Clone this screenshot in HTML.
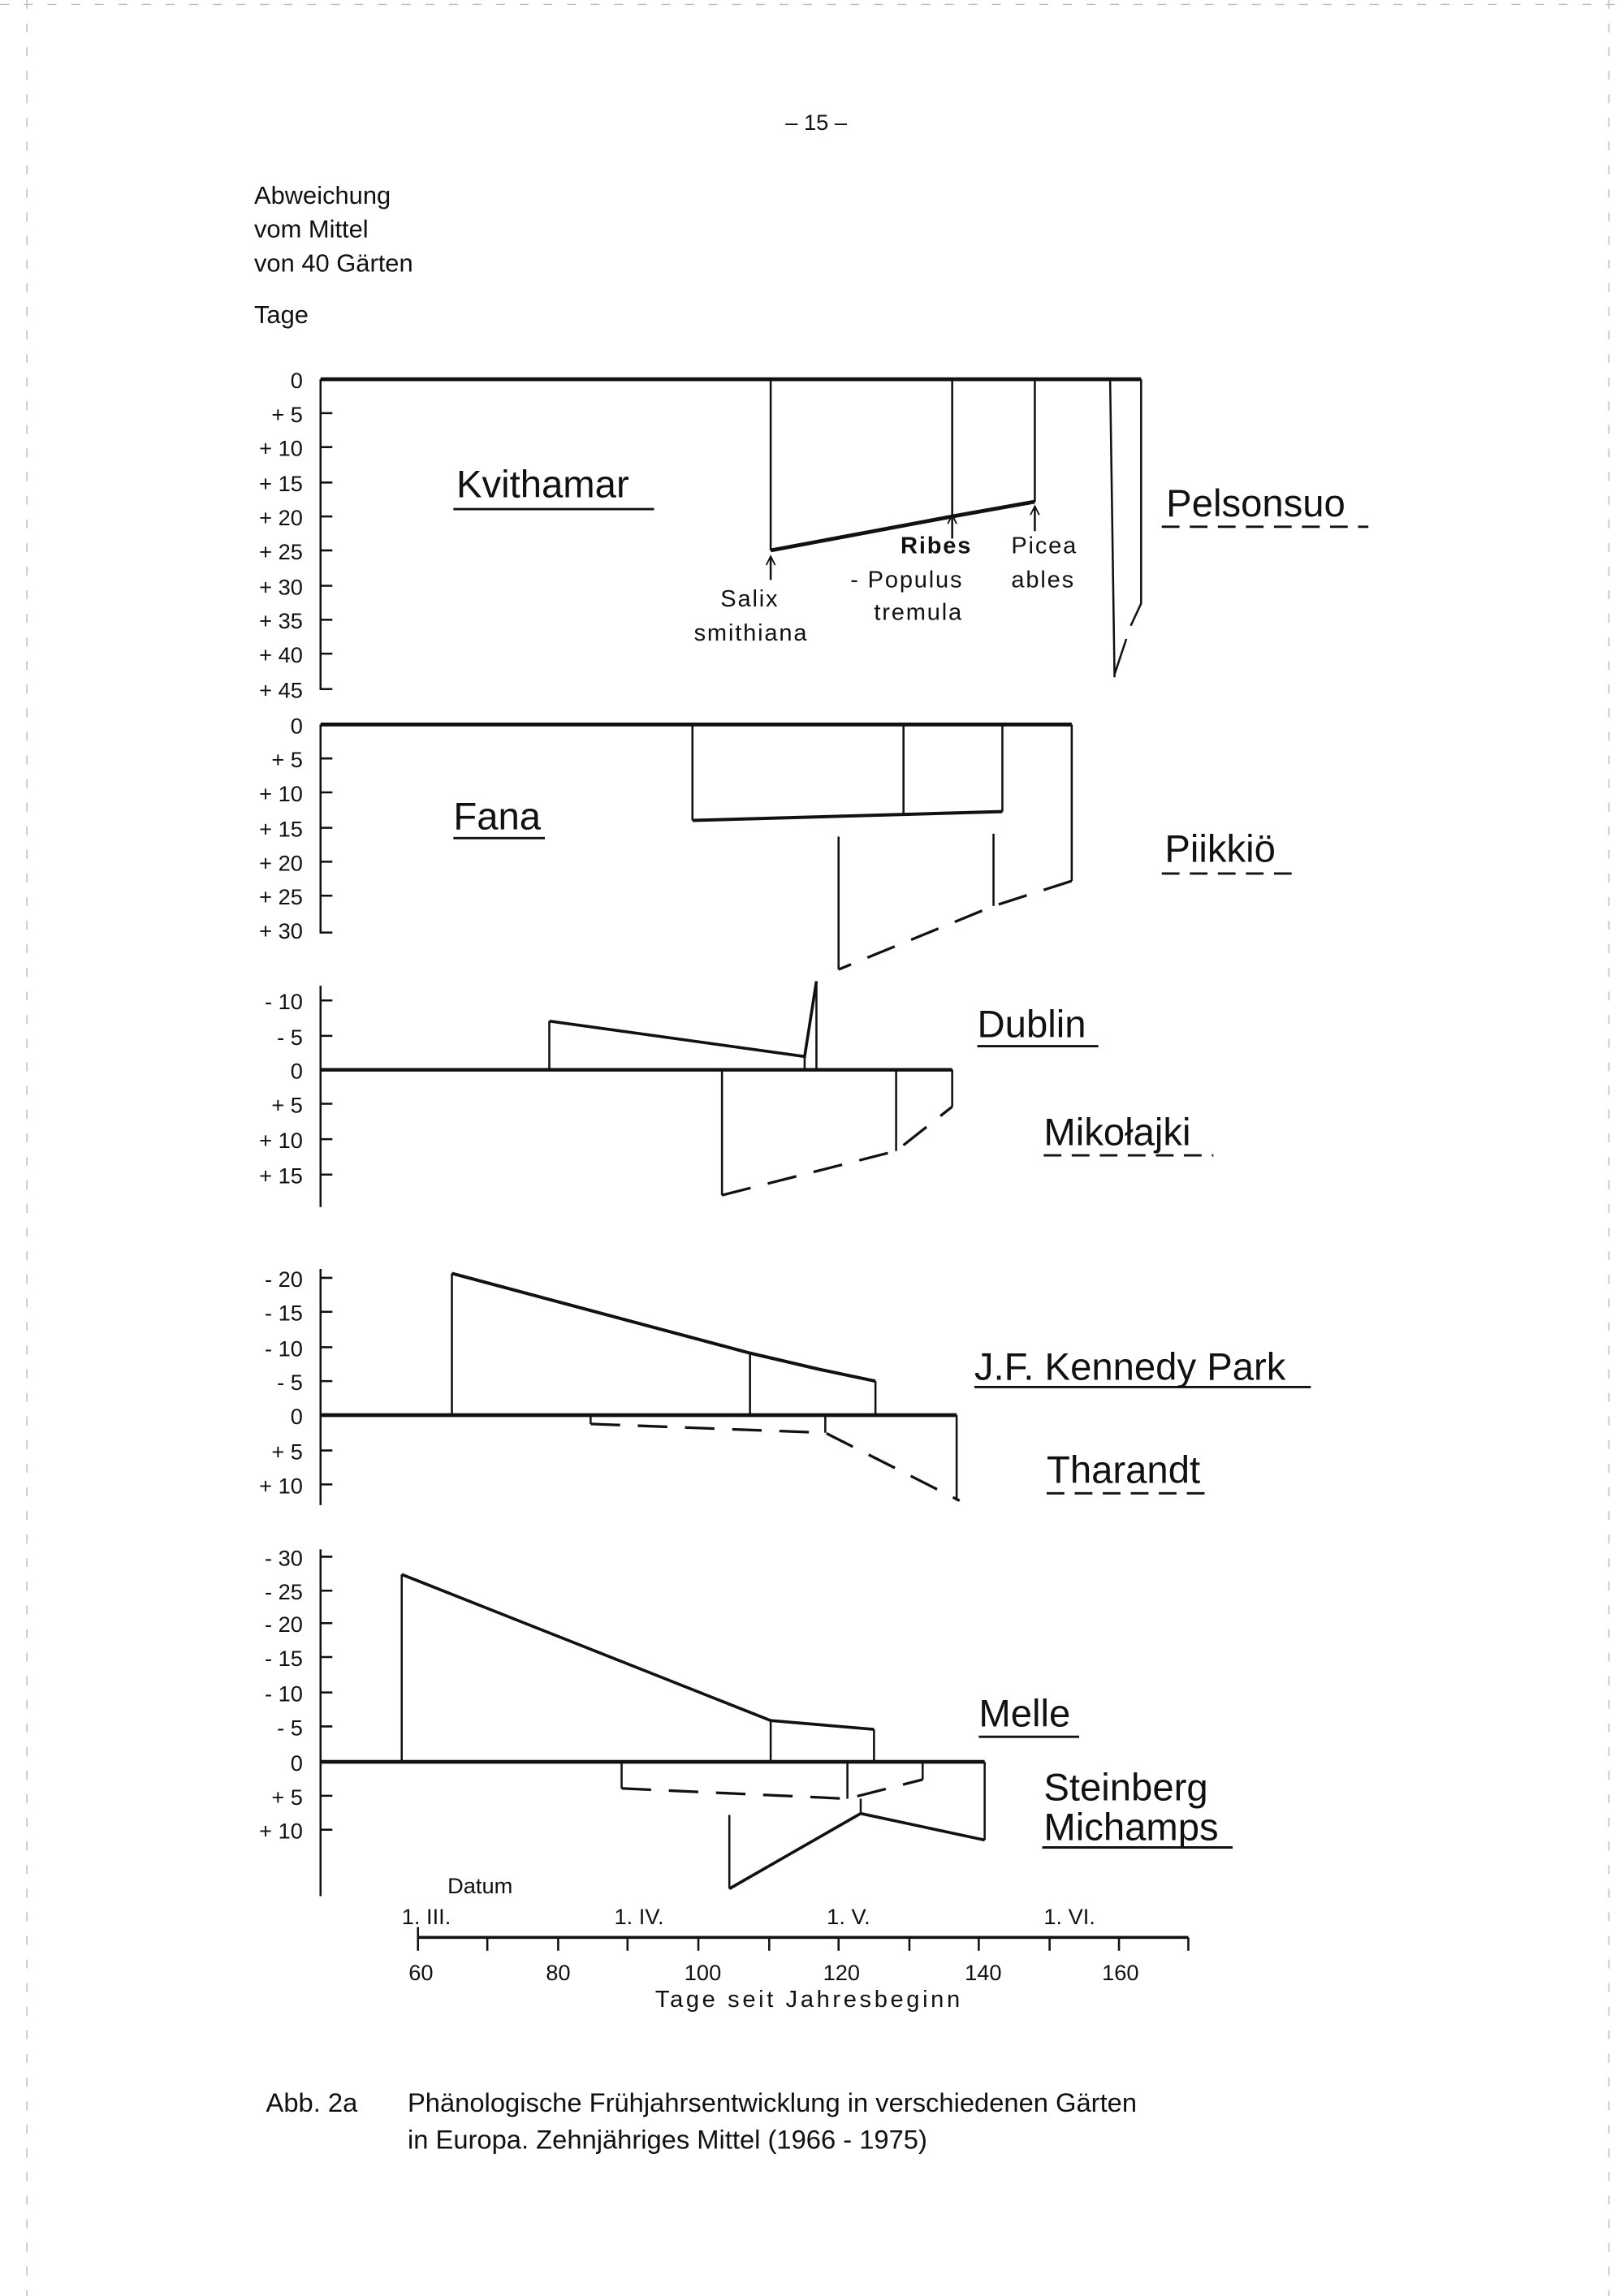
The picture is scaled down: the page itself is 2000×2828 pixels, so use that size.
<!DOCTYPE html>
<html><head><meta charset="utf-8"><style>
html,body{margin:0;padding:0;background:#fff}
svg{display:block}
text{font-family:"Liberation Sans",sans-serif;fill:#111}
</style></head><body>
<svg width="2000" height="2828" viewBox="0 0 1100 1556" xmlns="http://www.w3.org/2000/svg">
<g stroke="#bbb" stroke-width="0.8" stroke-dasharray="6 10" fill="none">
<line x1="0" y1="3" x2="1100" y2="3"/>
<line x1="18" y1="0" x2="18" y2="1556"/>
<line x1="1090" y1="0" x2="1090" y2="1556"/>
</g>
<text x="532" y="88" font-size="15">– 15 –</text>
<g font-size="17">
<text x="172" y="138">Abweichung</text>
<text x="172" y="161">vom Mittel</text>
<text x="172" y="184">von 40 Gärten</text>
<text x="172" y="219">Tage</text>
</g>
<g font-size="15" text-anchor="end">
<text x="205" y="263">0</text><text x="205" y="286">+ 5</text><text x="205" y="309">+ 10</text><text x="205" y="333">+ 15</text><text x="205" y="356">+ 20</text><text x="205" y="379">+ 25</text><text x="205" y="403">+ 30</text><text x="205" y="426">+ 35</text><text x="205" y="449">+ 40</text><text x="205" y="473">+ 45</text>
<text x="205" y="497">0</text><text x="205" y="520">+ 5</text><text x="205" y="543">+ 10</text><text x="205" y="567">+ 15</text><text x="205" y="590">+ 20</text><text x="205" y="613">+ 25</text><text x="205" y="636">+ 30</text>
<text x="205" y="684">- 10</text><text x="205" y="708">- 5</text><text x="205" y="731">0</text><text x="205" y="754">+ 5</text><text x="205" y="778">+ 10</text><text x="205" y="802">+ 15</text>
<text x="205" y="872">- 20</text><text x="205" y="895">- 15</text><text x="205" y="919">- 10</text><text x="205" y="942">- 5</text><text x="205" y="965">0</text><text x="205" y="989">+ 5</text><text x="205" y="1012">+ 10</text>
<text x="205" y="1061">- 30</text><text x="205" y="1084">- 25</text><text x="205" y="1106">- 20</text><text x="205" y="1129">- 15</text><text x="205" y="1153">- 10</text><text x="205" y="1176">- 5</text><text x="205" y="1200">0</text><text x="205" y="1223">+ 5</text><text x="205" y="1246">+ 10</text>
</g>
<g stroke="#111" stroke-width="1.4" fill="none">
<!-- panel 1 axis -->
<path d="M217 257V467H225"/>
<path d="M217 280h8M217 303h8M217 327h8M217 350h8M217 373h8M217 397h8M217 420h8M217 443h8"/>
<line x1="217" y1="257" x2="773" y2="257" stroke-width="2.6"/>
<path d="M522 257V373M645 257V350M701 257V340"/>
<path d="M522 373L645 350L701 340" stroke-width="2.6"/>
<path d="M752 257L755 459M773 257V409L766 424M763 433L755 457"/>
<!-- arrows -->
<path d="M522 393V378M645 365V350M701 360V344"/>
<path d="M519 383L522 377L525 383M642 355L645 349L648 355M698 349L701 343L704 349" stroke-width="1"/>
<!-- panel 2 -->
<path d="M217 491V632H225"/>
<path d="M217 514h8M217 537h8M217 561h8M217 584h8M217 607h8"/>
<line x1="217" y1="491" x2="726" y2="491" stroke-width="2.6"/>
<path d="M469 491V556M612 491V551M679 491V550M726 491V597"/>
<path d="M469 556L679 550" stroke-width="2.2"/>
<path d="M673 565V614M568 567V657"/>
<path d="M726 597L673 614L568 657" stroke-dasharray="20 12" stroke-width="1.8"/>
<!-- panel 3 -->
<path d="M217 668V818"/>
<path d="M217 678h8M217 702h8M217 748h8M217 772h8M217 796h8"/>
<line x1="217" y1="725" x2="645" y2="725" stroke-width="2.4"/>
<path d="M372 725V692M545 716V725M553 665V725"/>
<path d="M372 692L545 716L553 665" stroke-width="2"/>
<path d="M489 725V810M607 725V780M645 725V750"/>
<path d="M489 810L607 780L645 750" stroke-dasharray="20 12" stroke-width="1.8"/>
<!-- panel 4 -->
<path d="M217 860V1020"/>
<path d="M217 866h8M217 889h8M217 913h8M217 936h8M217 983h8M217 1006h8"/>
<line x1="217" y1="959" x2="648" y2="959" stroke-width="2.6"/>
<path d="M306 959V863M508 917V959M593 936V959"/>
<path d="M306 863L508 917L555 928L593 936" stroke-width="2.2"/>
<path d="M400 959V965M559 959V971M648 959V1017"/>
<path d="M400 965L559 971L650 1017" stroke-dasharray="20 12" stroke-width="1.8"/>
<!-- panel 5 -->
<path d="M217 1050V1285"/>
<path d="M217 1055h8M217 1078h8M217 1100h8M217 1123h8M217 1147h8M217 1170h8M217 1217h8M217 1240h8"/>
<line x1="217" y1="1194" x2="667" y2="1194" stroke-width="2.6"/>
<path d="M272 1194V1067M522 1166V1194M592 1172V1194"/>
<path d="M272 1067L522 1166L592 1172" stroke-width="2"/>
<path d="M421 1194V1212M574 1194V1219M625 1194V1206"/>
<path d="M421 1212L574 1219L625 1206" stroke-dasharray="20 12" stroke-width="1.8"/>
<path d="M667 1194V1247M583 1219V1229M494 1230V1280"/>
<path d="M667 1247L583 1229L494 1280" stroke-width="2"/>
<!-- date axis -->
<line x1="283" y1="1313" x2="805" y2="1313" stroke-width="2"/>
<path d="M283 1306V1322M330 1313V1322M378 1313V1322M425 1313V1322M473 1313V1322M521 1313V1322M568 1313V1322M616 1313V1322M663 1313V1322M711 1313V1322M758 1313V1322M805 1313V1322"/>
<!-- underlines -->
<path d="M307 345H443M307 568H369M662 709H744M660 940H888M663 1177H731M706 1252H835" stroke-width="1.6"/>
<path d="M787 357H927M787 592H877M707 783H822M709 1012H818" stroke-dasharray="12 7" stroke-width="1.6"/>
</g>
<g font-size="26">
<text x="309" y="337">Kvithamar</text>
<text x="790" y="350">Pelsonsuo</text>
<text x="307" y="562">Fana</text>
<text x="789" y="584">Piikkiö</text>
<text x="662" y="703">Dublin</text>
<text x="707" y="776">Mikołajki</text>
<text x="660" y="935">J.F. Kennedy Park</text>
<text x="709" y="1005">Tharandt</text>
<text x="663" y="1170">Melle</text>
<text x="707" y="1220">Steinberg</text>
<text x="707" y="1247">Michamps</text>
</g>
<g font-size="16" letter-spacing="1">
<text x="610" y="375" font-weight="bold">Ribes</text>
<text x="685" y="375">Picea</text>
<text x="576" y="398">- Populus</text>
<text x="685" y="398">ables</text>
<text x="592" y="420">tremula</text>
<text x="488" y="411">Salix</text>
<text x="470" y="434">smithiana</text>
</g>
<g font-size="15">
<text x="303" y="1283">Datum</text>
<text x="272" y="1304">1. III.</text>
<text x="416" y="1304">1. IV.</text>
<text x="560" y="1304">1. V.</text>
<text x="707" y="1304">1. VI.</text>
<text x="285" y="1342" text-anchor="middle">60</text>
<text x="378" y="1342" text-anchor="middle">80</text>
<text x="476" y="1342" text-anchor="middle">100</text>
<text x="570" y="1342" text-anchor="middle">120</text>
<text x="666" y="1342" text-anchor="middle">140</text>
<text x="759" y="1342" text-anchor="middle">160</text>
<text x="548" y="1360" text-anchor="middle" font-size="16" letter-spacing="2">Tage seit Jahresbeginn</text>
</g>
<g font-size="18">
<text x="180" y="1431">Abb. 2a</text>
<text x="276" y="1431">Phänologische Frühjahrsentwicklung in verschiedenen Gärten</text>
<text x="276" y="1456">in Europa.  Zehnjähriges Mittel (1966 - 1975)</text>
</g>
</svg>
</body></html>
